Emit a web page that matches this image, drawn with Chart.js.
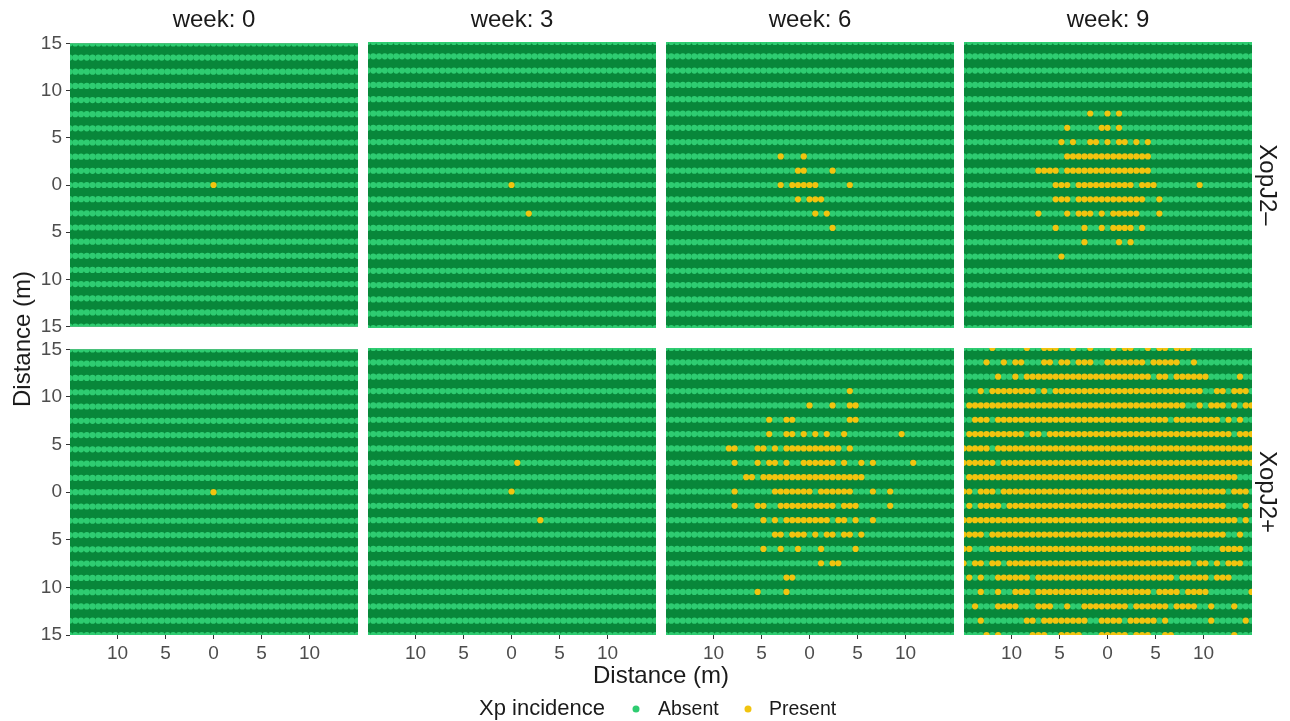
<!DOCTYPE html>
<html><head><meta charset="utf-8">
<script src="https://cdn.jsdelivr.net/npm/chart.js@4.4.1/dist/chart.umd.min.js"></script>
<style>
html,body{margin:0;padding:0;background:#fff;}
body{width:1290px;height:721px;position:relative;overflow:hidden;font-family:"Liberation Sans",Arial,Helvetica,sans-serif;}
canvas{position:absolute;}
.txt{position:absolute;white-space:nowrap;color:#1a1a1a;line-height:1;}
.dot{position:absolute;width:7px;height:7px;border-radius:50%;transform:translate(-50%,-50%);}
</style></head><body>
<script>
// ---------- data ----------
const weekLabels = ["week: 0", "week: 3", "week: 6", "week: 9"];
const treatmentLabels = ["XopJ2–", "XopJ2+"];
const axisTitle = "Distance (m)";
const legendTitle = "Xp incidence";
const legendLabels = ["Absent", "Present"];
const incidenceColors = ["#2ecc71", "#f1c40f"];
const xTicks = [-10, -5, 0, 5, 10];
const yTicks = [-15, -10, -5, 0, 5, 10, 15];
// plant positions along a row (m) and row positions (m), top row first
const plantX = [-15, -14.4, -13.8, -13.2, -12.6, -12, -11.4, -10.8, -10.2, -9.6,
  -9, -8.4, -7.8, -7.2, -6.6, -6, -5.4, -4.8, -4.2, -3.6,
  -3, -2.4, -1.8, -1.2, -0.6, 0, 0.6, 1.2, 1.8, 2.4,
  3, 3.6, 4.2, 4.8, 5.4, 6, 6.6, 7.2, 7.8, 8.4,
  9, 9.6, 10.2, 10.8, 11.4, 12, 12.6, 13.2, 13.8, 14.4, 15];
const rowY = [15, 13.5, 12, 10.5, 9, 7.5, 6, 4.5, 3, 1.5, 0, -1.5, -3, -4.5, -6, -7.5, -9, -10.5, -12, -13.5, -15];

// incidence maps: one string per row (top = 15 m), one char per plant; 'o' = Present, '.' = Absent
const minusWeek0 = [
".......... .......... .......... .......... .......... .",
".......... .......... .......... .......... .......... .",
".......... .......... .......... .......... .......... .",
".......... .......... .......... .......... .......... .",
".......... .......... .......... .......... .......... .",
".......... .......... .......... .......... .......... .",
".......... .......... .......... .......... .......... .",
".......... .......... .......... .......... .......... .",
".......... .......... .......... .......... .......... .",
".......... .......... .......... .......... .......... .",
".......... .......... .....o.... .......... .......... .",
".......... .......... .......... .......... .......... .",
".......... .......... .......... .......... .......... .",
".......... .......... .......... .......... .......... .",
".......... .......... .......... .......... .......... .",
".......... .......... .......... .......... .......... .",
".......... .......... .......... .......... .......... .",
".......... .......... .......... .......... .......... .",
".......... .......... .......... .......... .......... .",
".......... .......... .......... .......... .......... .",
".......... .......... .......... .......... .......... ."];
const minusWeek3 = [
".......... .......... .......... .......... .......... .",
".......... .......... .......... .......... .......... .",
".......... .......... .......... .......... .......... .",
".......... .......... .......... .......... .......... .",
".......... .......... .......... .......... .......... .",
".......... .......... .......... .......... .......... .",
".......... .......... .......... .......... .......... .",
".......... .......... .......... .......... .......... .",
".......... .......... .......... .......... .......... .",
".......... .......... .......... .......... .......... .",
".......... .......... .....o.... .......... .......... .",
".......... .......... .......... .......... .......... .",
".......... .......... ........o. .......... .......... .",
".......... .......... .......... .......... .......... .",
".......... .......... .......... .......... .......... .",
".......... .......... .......... .......... .......... .",
".......... .......... .......... .......... .......... .",
".......... .......... .......... .......... .......... .",
".......... .......... .......... .......... .......... .",
".......... .......... .......... .......... .......... .",
".......... .......... .......... .......... .......... ."];
const minusWeek6 = [
".......... .......... .......... .......... .......... .",
".......... .......... .......... .......... .......... .",
".......... .......... .......... .......... .......... .",
".......... .......... .......... .......... .......... .",
".......... .......... .......... .......... .......... .",
".......... .......... .......... .......... .......... .",
".......... .......... .......... .......... .......... .",
".......... .......... .......... .......... .......... .",
".......... .......... o...o..... .......... .......... .",
".......... .......... ...oo....o .......... .......... .",
".......... .......... o.ooooo... ..o....... .......... .",
".......... .......... ...o.ooo.. .......... .......... .",
".......... .......... ......o.o. .......... .......... .",
".......... .......... .........o .......... .......... .",
".......... .......... .......... .......... .......... .",
".......... .......... .......... .......... .......... .",
".......... .......... .......... .......... .......... .",
".......... .......... .......... .......... .......... .",
".......... .......... .......... .......... .......... .",
".......... .......... .......... .......... .......... .",
".......... .......... .......... .......... .......... ."];
const minusWeek9 = [
".......... .......... .......... .......... .......... .",
".......... .......... .......... .......... .......... .",
".......... .......... .......... .......... .......... .",
".......... .......... .......... .......... .......... .",
".......... .......... .......... .......... .......... .",
".......... .......... ..o..o.o.. .......... .......... .",
".......... ........o. ....oo.o.. .......... .......... .",
".......... .......o.o ..oo.o.oo. o.o....... .......... .",
".......... ........oo oooooooooo ooo....... .......... .",
".......... ...oooo.oo oooooooooo ooo....... .......... .",
".......... ......ooo. oooooooooo .ooo...... .o........ .",
".......... ......ooo. oooooooooo oo..o..... .......... .",
".......... ...o....o. ooo.o.oooo o...o..... .......... .",
".......... ......o... .o..o.oooo .o........ .......... .",
".......... .......... .o.....o.o .......... .......... .",
".......... .......o.. .......... .......... .......... .",
".......... .......... .......... .......... .......... .",
".......... .......... .......... .......... .......... .",
".......... .......... .......... .......... .......... .",
".......... .......... .......... .......... .......... .",
".......... .......... .......... .......... .......... ."];
const plusWeek0 = [
".......... .......... .......... .......... .......... .",
".......... .......... .......... .......... .......... .",
".......... .......... .......... .......... .......... .",
".......... .......... .......... .......... .......... .",
".......... .......... .......... .......... .......... .",
".......... .......... .......... .......... .......... .",
".......... .......... .......... .......... .......... .",
".......... .......... .......... .......... .......... .",
".......... .......... .......... .......... .......... .",
".......... .......... .......... .......... .......... .",
".......... .......... .....o.... .......... .......... .",
".......... .......... .......... .......... .......... .",
".......... .......... .......... .......... .......... .",
".......... .......... .......... .......... .......... .",
".......... .......... .......... .......... .......... .",
".......... .......... .......... .......... .......... .",
".......... .......... .......... .......... .......... .",
".......... .......... .......... .......... .......... .",
".......... .......... .......... .......... .......... .",
".......... .......... .......... .......... .......... .",
".......... .......... .......... .......... .......... ."];
const plusWeek3 = [
".......... .......... .......... .......... .......... .",
".......... .......... .......... .......... .......... .",
".......... .......... .......... .......... .......... .",
".......... .......... .......... .......... .......... .",
".......... .......... .......... .......... .......... .",
".......... .......... .......... .......... .......... .",
".......... .......... .......... .......... .......... .",
".......... .......... .......... .......... .......... .",
".......... .......... ......o... .......... .......... .",
".......... .......... .......... .......... .......... .",
".......... .......... .....o.... .......... .......... .",
".......... .......... .......... .......... .......... .",
".......... .......... .......... o......... .......... .",
".......... .......... .......... .......... .......... .",
".......... .......... .......... .......... .......... .",
".......... .......... .......... .......... .......... .",
".......... .......... .......... .......... .......... .",
".......... .......... .......... .......... .......... .",
".......... .......... .......... .......... .......... .",
".......... .......... .......... .......... .......... .",
".......... .......... .......... .......... .......... ."];
const plusWeek6 = [
".......... .......... .......... .......... .......... .",
".......... .......... .......... .......... .......... .",
".......... .......... .......... .......... .......... .",
".......... .......... .......... ..o....... .......... .",
".......... .......... .....o...o ..oo...... .......... .",
".......... ........o. .oo....... ..oo...... .......... .",
".......... ........o. .oo.o.o.o. .o........ .o........ .",
".......... .oo...oo.o .ooooooooo o.o....... .......... .",
".......... ..o...o.oo .o..oooooo .o..o.o... ...o...... .",
".......... ....oo.ooo oooooooooo ooooo..... .......... .",
".......... ..o......o oooooo.ooo ooo...o..o .......... .",
".......... ..o...oo.. oooooooooo .ooo.....o .......... .",
".......... .......o.o .oooooooo. oo.o..o... .......... .",
".......... .........o o.ooo.o.oo .oo.o..... .......... .",
".......... .......o.. o..o...o.. ...o...... .......... .",
".......... .......... .......o.o o......... .......... .",
".......... .......... .oo....... .......... .......... .",
".......... ......o... .o........ .......... .......... .",
".......... .......... .......... .......... .......... .",
".......... .......... .......... .......... .......... .",
".......... .......... .......... .......... .......... ."];
const plusWeek9 = [
".....o.... .o..ooo..o ..o...o.oo ..o.oo.ooo .......... .",
"....o..o.o o...oo.oo. ooo..ooooo oo.ooooo.. o......... .",
"......o..o .ooooooooo oooooooooo ooo.oo.ooo ooo.....o. .",
"...o.ooooo ooo.o.oooo oooooooooo oooooooooo oo..oo.ooo .",
".ooooooooo oooooooooo oooooooooo ooooooooo. .o.ooo.o.o o",
"..ooo.oooo oooooooooo oooooooooo oooooo.ooo ooooo.o.o. .",
".ooooooooo o.oo.ooooo oooooooooo oooooooooo ooooooo.oo o",
"ooooo.oooo oooooooooo oooooooooo oooooooooo oooooooooo o",
"oooooo.ooo oooooooooo oooooooooo oooooooooo oooooooooo o",
".ooooooooo oooooooooo oooooooooo oooooooooo oooooooo.. .",
"oo.ooo.ooo oooooooooo oooooooooo oooooooooo oooooo.ooo .",
".o.oooo.oo oooooooooo oooooooooo oooooooooo oooooo...o .",
"oooooooooo oooooooooo oooooooooo oooooooooo oooooooo.o .",
"oooo.ooooo oooooooooo oooooooooo oooooooooo oooooo..o. .",
"oo...ooooo oooooooooo oooooooooo oooooooooo .....oooo. .",
"o.oo.oo.oo oooooooooo oooooooooo oooooooooo .oo.o.ooo. .",
".o.o..oooo oo.ooooooo oooooooooo ooooooo.oo ooo.ooo... .",
"...o..o..o oo.ooooooo oooooooooo ooo.oooo.o ooo....... o",
"..o...oooo ...ooo..o. .oooooooo. oooooo.ooo o..o...o.. .",
"...o...... .oo.oooooo oo..oooo.o oooo.o.... ...o.....o .",
"....o.o... ..ooo..ooo o...ooooo. ooo..oo... .......o.. ."];

const panelMaps = [
  [minusWeek0, minusWeek3, minusWeek6, minusWeek9],
  [plusWeek0, plusWeek3, plusWeek6, plusWeek9]
];

// ---------- layout ----------
const FONT = '"Liberation Sans", Arial, Helvetica, sans-serif';
Chart.defaults.font.family = FONT;
const panelLeft = [70, 368, 666, 964];
const panelTop = [42, 348];
const panelW = 288;
const panelH = [286, 287];
const yAxisW = 70, xAxisH = 36, M = 14;

function buildPoints(rows) {
  const absent = [], present = [];
  rows.forEach((row, j) => {
    const cells = row.replace(/ /g, '');
    for (let i = 0; i < cells.length; i++) {
      const pt = { x: plantX[i], y: rowY[j] };
      (cells[i] === 'o' ? present : absent).push(pt);
    }
  });
  return { absent, present };
}

const panelBg = {
  id: 'panelBg',
  beforeDatasetsDraw(chart) {
    const { ctx, chartArea: a } = chart;
    ctx.save();
    ctx.fillStyle = '#08873a';
    ctx.fillRect(a.left, a.top, a.right - a.left, a.bottom - a.top);
    ctx.restore();
  }
};

function addText(txt, left, top, size, extra) {
  const d = document.createElement('div');
  d.className = 'txt';
  d.textContent = txt;
  d.style.left = left + 'px';
  d.style.top = top + 'px';
  d.style.fontSize = size + 'px';
  d.style.transform = extra || 'translate(-50%,-50%)';
  document.body.appendChild(d);
  return d;
}

for (let r = 0; r < 2; r++) {
  for (let c = 0; c < 4; c++) {
    const showY = c === 0, showX = r === 1;
    const padL = showY ? 0 : M;
    const padB = showX ? 0 : M;
    const cv = document.createElement('canvas');
    const w = panelW + (showY ? yAxisW : M) + M;
    const h = panelH[r] + M + (showX ? xAxisH : M);
    cv.width = w; cv.height = h;
    cv.style.width = w + 'px'; cv.style.height = h + 'px';
    cv.style.left = (panelLeft[c] - (showY ? yAxisW : M)) + 'px';
    cv.style.top = (panelTop[r] - M) + 'px';
    document.body.appendChild(cv);
    const pts = buildPoints(panelMaps[r][c]);
    const tickFont = { size: 19, family: FONT };
    new Chart(cv, {
      type: 'scatter',
      data: {
        datasets: [
          { label: legendLabels[1], data: pts.present, backgroundColor: incidenceColors[1],
            pointRadius: 3.1, pointHoverRadius: 3.1, borderWidth: 0, pointBorderWidth: 0, clip: 0, order: 1 },
          { label: legendLabels[0], data: pts.absent, backgroundColor: incidenceColors[0],
            pointRadius: 3.1, pointHoverRadius: 3.1, borderWidth: 0, pointBorderWidth: 0, clip: 0, order: 2 }
        ]
      },
      options: {
        responsive: false, animation: false, events: [],
        layout: { padding: { left: padL, top: M, right: M, bottom: padB } },
        plugins: { legend: { display: false }, tooltip: { enabled: false } },
        scales: {
          x: {
            type: 'linear', min: -14.95, max: 15.05, display: showX,
            afterBuildTicks: s => { s.ticks = xTicks.map(v => ({ value: v })); },
            afterFit: s => { s.height = showX ? xAxisH : 0; },
            grid: { drawOnChartArea: false, drawTicks: true, tickLength: 4, color: '#333333' },
            border: { display: false },
            ticks: { color: '#4d4d4d', font: tickFont, padding: 3, maxRotation: 0, autoSkip: false,
                     callback: v => String(Math.abs(v)) }
          },
          y: {
            type: 'linear', min: -15, max: 15, display: showY,
            afterBuildTicks: s => { s.ticks = yTicks.map(v => ({ value: v })); },
            afterFit: s => { s.width = showY ? yAxisW : 0; },
            grid: { drawOnChartArea: false, drawTicks: true, tickLength: 4, color: '#333333' },
            border: { display: false },
            ticks: { color: '#4d4d4d', font: tickFont, padding: 4, autoSkip: false,
                     callback: v => String(Math.abs(v)) }
          }
        }
      },
      plugins: [panelBg]
    });
  }
}

// strips
weekLabels.forEach((t, c) => addText(t, panelLeft[c] + panelW / 2, 19, 24));
treatmentLabels.forEach((t, r) => addText(t, 1268, panelTop[r] + panelH[r] / 2, 24, 'translate(-50%,-50%) rotate(90deg)'));
// axis titles
addText(axisTitle, (panelLeft[0] + panelLeft[3] + panelW) / 2, 675, 24);
addText(axisTitle, 22, (panelTop[0] + panelTop[1] + panelH[1]) / 2, 24, 'translate(-50%,-50%) rotate(-90deg)');
// legend
addText(legendTitle, 479, 708, 22, 'translate(0,-50%)');
const legendDotX = [636, 748];
const legendTextX = [658, 769];
legendLabels.forEach((t, i) => {
  const d = document.createElement('div');
  d.className = 'dot';
  d.style.left = legendDotX[i] + 'px';
  d.style.top = '709px';
  d.style.background = incidenceColors[i];
  document.body.appendChild(d);
  addText(t, legendTextX[i], 709, 19.5, 'translate(0,-50%)');
});
</script>
</body></html>
